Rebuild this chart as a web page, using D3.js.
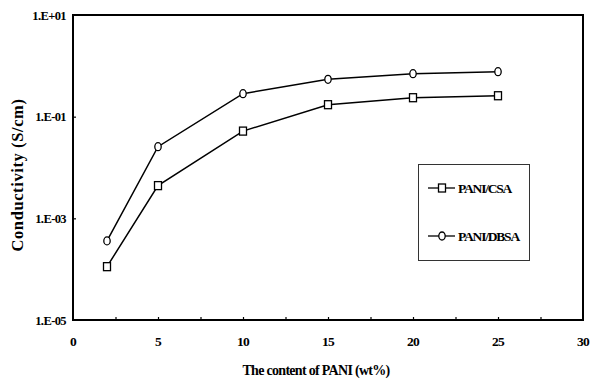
<!DOCTYPE html>
<html>
<head>
<meta charset="utf-8">
<script src="https://cdn.jsdelivr.net/npm/d3@7/dist/d3.min.js"></script>
<style>
  html, body { margin: 0; padding: 0; background: #fff; }
  svg text { font-family: "Liberation Serif", "Times New Roman", serif; font-weight: bold; fill: #000; }
</style>
</head>
<body>
<svg id="chart" width="592" height="383"></svg>
<script>
// PANI content (wt%) and measured conductivity (S/cm)
const content = [2, 5, 10, 15, 20, 25];
const csa = [1.12e-4, 4.4e-3, 0.052, 0.172, 0.236, 0.258];
const dbsa = [3.6e-4, 0.0257, 0.283, 0.543, 0.70, 0.767];

const xTicks = [0, 5, 10, 15, 20, 25, 30];
const xMinorTicks = [2.5, 5, 7.5, 10, 12.5, 15, 17.5, 20, 22.5, 25, 27.5];
const yTicks = [1e1, 1e-1, 1e-3, 1e-5];
const yTickLabels = ["1.E+01", "1.E-01", "1.E-03", "1.E-05"];

const seriesNames = ["PANI/CSA", "PANI/DBSA"];

const svg = d3.select("#chart");
const plot = { left: 73, right: 583, top: 15, bottom: 320 };

const x = d3.scaleLinear().domain([0, 30]).range([plot.left, plot.right]);
const y = d3.scaleLog().domain([1e-5, 1e1]).range([plot.bottom, plot.top]);

// inward tick marks
svg.append("g")
  .attr("transform", `translate(0,${plot.bottom})`)
  .call(d3.axisBottom(x).tickValues(xMinorTicks).tickSize(-3).tickFormat(""))
  .call(g => g.select(".domain").remove())
  .call(g => g.selectAll("line").attr("stroke", "#000").attr("stroke-width", 1.2));

svg.append("g")
  .attr("transform", `translate(${plot.left},0)`)
  .call(d3.axisLeft(y).tickValues([1e-1, 1e-3]).tickSize(-3).tickFormat(""))
  .call(g => g.select(".domain").remove())
  .call(g => g.selectAll("line").attr("stroke", "#000").attr("stroke-width", 1.2));

// frame
svg.append("rect")
  .attr("x", plot.left).attr("y", plot.top)
  .attr("width", plot.right - plot.left).attr("height", plot.bottom - plot.top)
  .attr("fill", "none").attr("stroke", "#000").attr("stroke-width", 2);

// tick labels
svg.append("g").selectAll("text")
  .data(xTicks).join("text")
  .attr("x", d => x(d)).attr("y", 346)
  .attr("text-anchor", "middle")
  .attr("font-size", 13.5)
  .attr("letter-spacing", -0.8)
  .text(d => d);

svg.append("g").selectAll("text")
  .data(yTicks).join("text")
  .attr("x", 66).attr("y", d => y(d) + 4.5)
  .attr("text-anchor", "end")
  .attr("font-size", 12.5)
  .attr("letter-spacing", -0.6)
  .text((d, i) => yTickLabels[i]);

// axis titles
svg.append("text")
  .attr("transform", "translate(23,175) rotate(-90)")
  .attr("text-anchor", "middle")
  .attr("font-size", 16.5)
  .attr("letter-spacing", 0.6)
  .text("Conductivity (S/cm)");

svg.append("text")
  .attr("x", 316).attr("y", 375)
  .attr("text-anchor", "middle")
  .attr("font-size", 14)
  .attr("letter-spacing", -0.7)
  .text("The content of PANI (wt%)");

// series
const line = d3.line().x((d, i) => x(content[i])).y(d => y(d));

[csa, dbsa].forEach(vals => {
  svg.append("path")
    .datum(vals)
    .attr("d", line)
    .attr("fill", "none")
    .attr("stroke", "#000")
    .attr("stroke-width", 1.5);
});

function drawSquare(g, cx, cy) {
  g.append("rect")
    .attr("x", cx - 3.5).attr("y", cy - 4)
    .attr("width", 7).attr("height", 8)
    .attr("fill", "#fff").attr("stroke", "#000").attr("stroke-width", 1.3);
}
function drawCircle(g, cx, cy) {
  g.append("ellipse")
    .attr("cx", cx).attr("cy", cy)
    .attr("rx", 3.2).attr("ry", 4)
    .attr("fill", "#fff").attr("stroke", "#000").attr("stroke-width", 1.3);
}

const markers = svg.append("g");
csa.forEach((v, i) => drawSquare(markers, x(content[i]), y(v)));
dbsa.forEach((v, i) => drawCircle(markers, x(content[i]), y(v)));

// legend
const legend = svg.append("g");
legend.append("rect")
  .attr("x", 418.5).attr("y", 164.5)
  .attr("width", 111).attr("height", 96)
  .attr("fill", "#fff").attr("stroke", "#333").attr("stroke-width", 1);

const legendY = [188, 236];
seriesNames.forEach((name, i) => {
  const ly = legendY[i];
  legend.append("line")
    .attr("x1", 428).attr("x2", 455).attr("y1", ly).attr("y2", ly)
    .attr("stroke", "#000").attr("stroke-width", 1.3);
  if (i === 0) drawSquare(legend, 442, ly); else drawCircle(legend, 442, ly);
  legend.append("text")
    .attr("x", 458).attr("y", ly + 5)
    .attr("font-size", 13.5)
    .attr("letter-spacing", -1.2)
    .text(name);
});
</script>
</body>
</html>
